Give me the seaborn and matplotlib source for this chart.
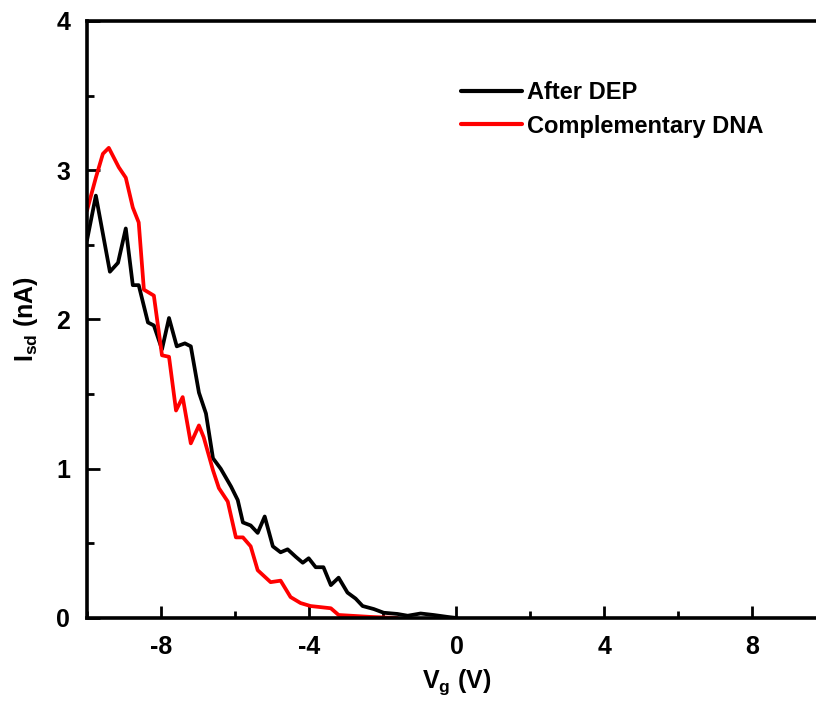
import pandas as pd
import matplotlib
matplotlib.use("Agg")
import matplotlib.pyplot as plt
import seaborn as sns
from matplotlib.ticker import MultipleLocator

# After DEP (black)
vg_dep = [-10.0, -9.76, -9.38, -9.16, -8.95, -8.76, -8.6, -8.35, -8.19, -7.97,
          -7.78, -7.57, -7.35, -7.19, -6.97, -6.78, -6.59, -6.38, -6.1, -5.92,
          -5.78, -5.57, -5.38, -5.19, -4.97, -4.76, -4.57, -4.35, -4.16, -4.0,
          -3.81, -3.6, -3.4, -3.19, -2.95, -2.73, -2.54, -2.24, -1.97, -1.6,
          -1.32, -0.97, -0.62, -0.24, 0.0]
isd_dep = [2.53, 2.83, 2.32, 2.38, 2.61, 2.23, 2.23, 1.98, 1.96, 1.80,
           2.01, 1.82, 1.84, 1.82, 1.51, 1.37, 1.07, 1.00, 0.88, 0.79,
           0.64, 0.62, 0.57, 0.68, 0.48, 0.44, 0.46, 0.41, 0.37, 0.40,
           0.34, 0.34, 0.22, 0.27, 0.17, 0.13, 0.08, 0.06, 0.035, 0.027,
           0.015, 0.03, 0.02, 0.007, 0.0]

# Complementary DNA (red)
vg_dna = [-10.0, -9.76, -9.57, -9.41, -9.14, -8.95, -8.76, -8.6, -8.46, -8.19,
          -7.97, -7.78, -7.59, -7.41, -7.19, -6.97, -6.84, -6.59, -6.43, -6.19,
          -5.97, -5.78, -5.57, -5.38, -5.03, -4.76, -4.49, -4.22, -3.95, -3.4,
          -3.19, -2.32, -1.6]
isd_dna = [2.73, 2.95, 3.11, 3.15, 3.02, 2.95, 2.75, 2.65, 2.20, 2.16,
           1.76, 1.75, 1.39, 1.48, 1.17, 1.29, 1.21, 0.99, 0.87, 0.78,
           0.54, 0.54, 0.48, 0.32, 0.24, 0.25, 0.14, 0.10, 0.08, 0.065,
           0.02, 0.007, 0.0]

labels = ["After DEP", "Complementary DNA"]
colors = ["#000000", "#ff0000"]

df = pd.concat([
    pd.DataFrame({"Vg": vg_dep, "Isd": isd_dep, "sample": labels[0]}),
    pd.DataFrame({"Vg": vg_dna, "Isd": isd_dna, "sample": labels[1]}),
])

sns.set_style("ticks")
plt.rcParams["font.family"] = ["Liberation Sans", "DejaVu Sans"]
plt.rcParams["font.weight"] = "bold"
plt.rcParams["mathtext.fontset"] = "custom"
plt.rcParams["mathtext.rm"] = "Liberation Sans:bold"
plt.rcParams["mathtext.default"] = "rm"
plt.rcParams["axes.unicode_minus"] = False
for k in ["axes.edgecolor", "xtick.color", "ytick.color", "text.color",
          "axes.labelcolor"]:
    plt.rcParams[k] = "black"

fig = plt.figure(figsize=(8.16, 7.02), dpi=100)
ax = fig.add_axes([0.1066, 0.1197, 0.9056, 0.8504])

sns.lineplot(data=df, x="Vg", y="Isd", hue="sample", palette=dict(zip(labels, colors)),
             linewidth=2.7, ax=ax, sort=False, estimator=None)

ax.set_xlim(-10, 10)
ax.set_ylim(0, 4)
ax.xaxis.set_minor_locator(MultipleLocator(2))
ax.yaxis.set_major_locator(MultipleLocator(1))
ax.yaxis.set_minor_locator(MultipleLocator(0.5))
ax.set_xticks([-8, -4, 0, 4, 8])

ax.tick_params(which="major", direction="in", length=9, width=2, labelsize=18, pad=12)
ax.tick_params(which="minor", direction="in", length=5, width=2)
for s in ax.spines.values():
    s.set_linewidth(2.6)

ax.set_xlabel("V$_g$ (V)", fontsize=18, fontweight="bold", labelpad=6)
ax.set_ylabel("I$_{sd}$ (nA)", fontsize=18, fontweight="bold", labelpad=12)

leg = ax.legend(loc="upper left", bbox_to_anchor=(0.477, 0.935), frameon=False,
                handlelength=2.6, handletextpad=0.2, labelspacing=0.45,
                prop={"size": 17, "weight": "bold"})
for line in leg.get_lines():
    line.set_linewidth(3)

fig.savefig("out.png", dpi=100)
